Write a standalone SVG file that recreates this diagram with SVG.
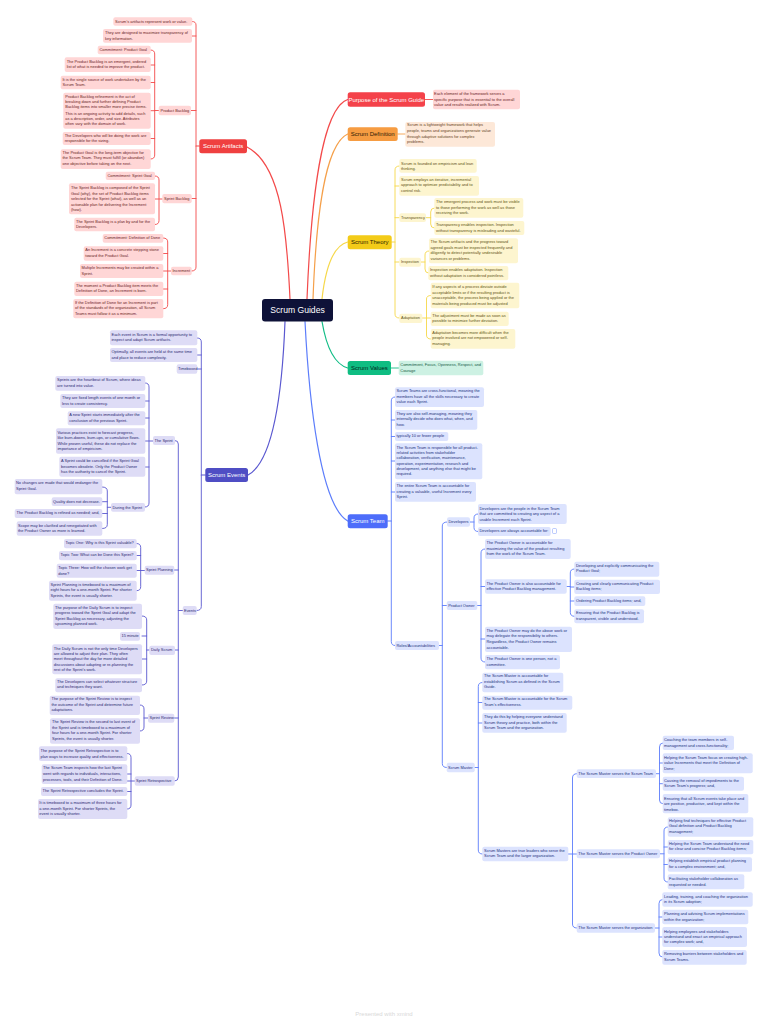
<svg xmlns="http://www.w3.org/2000/svg" width="768" height="1024" viewBox="0 0 768 1024">
<style>
text{font-family:"Liberation Sans",Arial,sans-serif;font-size:3.95px}
rect{rx:2px}
.main rect{rx:2.5px}
.main text{font-size:6px;text-anchor:middle}
path{fill:none;stroke-linecap:round;stroke-width:.9}
.t{stroke-width:1.2}
.red path,path.red{stroke:#f34a4a}
.ora path{stroke:#f5a04a}
.yel path{stroke:#f6d84a}
.grn path{stroke:#12bd86}
.ind path{stroke:#5a58d0}
.blu path{stroke:#5c7dfb}
g.nr rect{fill:#ffd6d6}g.nr text{fill:#6a1f1f}
g.no rect{fill:#fde8d8}g.no text{fill:#65431c}
g.ny rect{fill:#fdf5cf}g.ny text{fill:#5f5214}
g.ng rect{fill:#cdf1e3}g.ng text{fill:#155a44}
g.ni rect{fill:#dedcf6}g.ni text{fill:#2a2870}
g.nb rect{fill:#dce3fe}g.nb text{fill:#22307c}
</style>
<rect width="768" height="1024" fill="#ffffff" style="rx:0"/>
<g id="connectors">
<g class="red">
<path class="t" d="M290 299C287 235 282 165 247 147"/>
<path class="t" d="M196 146H199.3"/>
<path d="M192.3 21.5Q196 21.5 196 25V267Q196 271 191.7 271M192 36H196M191 110.5H196M191.7 198.5H196"/>
<path d="M150.7 50Q154.7 50 154.7 54V155Q154.7 159 150.7 159M150.7 65H154.7M150.7 82.5H154.7M150.7 110.7H154.7M150.7 138.5H154.7M154.7 110.5H158.7"/>
<path d="M155 176Q159 176 159 180V220.5Q159 224.5 155 224.5M155 199H162.3"/>
<path d="M163.3 238Q167.7 238 167.7 242V304.7Q167.7 308.7 163.3 308.7M163.3 253.5H167.7M163.3 271H171M163.3 289H167.7"/>
<path class="t" d="M307 299C311 200 322 108 347.7 99.5"/>
<path d="M425 99.5H433"/>
</g>
<g class="ora">
<path class="t" d="M313 299C316 220 324 145 347.7 134"/>
<path d="M397.7 134H405.3"/>
</g>
<g class="yel">
<path class="t" d="M322 299C325 272 332 246 347.7 242"/>
<path class="t" d="M391.7 242H395"/>
<path d="M399.3 166Q395 166 395 170V314Q395 318 399.3 318M399.3 186H395M399.3 217.7H395M399.3 262H395"/>
<path d="M426 217.7H430.7M434.3 208Q430.7 208 430.7 212V224Q430.7 228 434.3 228"/>
<path d="M421 262H425M429 251Q425 251 425 255V269Q425 273 428.3 273"/>
<path d="M422.3 318H430.7M430.7 295.5Q426.5 295.5 426.5 299V335Q426.5 339 430.7 339"/>
</g>
<g class="grn">
<path class="t" d="M322 321.5C326 345 334 364 347.7 368"/>
<path d="M391 368H398.7"/>
</g>
<g class="ind">
<path class="t" d="M285 321.5C282 400 272 462 248 475"/>
<path class="t" d="M201.3 475H205.3"/>
<path d="M197.3 338Q201.3 338 201.3 342V606.5Q201.3 610.5 196.7 610.5M197.3 355H201.3M197.3 369H201.3"/>
<path d="M175 440.5Q178.3 440.5 178.3 444V777Q178.3 781 174.7 781M174.3 570H178.3M175 650H178.3M174.3 718H178.3M178.3 610.5H182.7"/>
<path d="M145.3 383Q149 383 149 387V503Q149 507 145 507M145.3 401H149M145.3 418H149M145.3 441H153M145.3 467H149"/>
<path d="M102.3 487Q107.3 487 107.3 491V524.5Q107.3 528.5 102.3 528.5M102.3 501.7H107.3M102.3 513.5H107.3M107.3 507.3H111"/>
<path d="M136.7 543.5Q140.7 543.5 140.7 547.5V586.7Q140.7 590.7 136.7 590.7M136.7 555.5H140.7M136.7 570.5H144.7"/>
<path d="M142 616Q146.7 616 146.7 620V681Q146.7 685 142 685M142 636H146.7M142 659H146.7M146.7 650H149.3"/>
<path d="M140 705Q144 705 144 709V727Q144 731 140 731M144 718H148"/>
<path d="M127.3 753.5Q131 753.5 131 757.5V805Q131 809 127.3 809M127.3 774H131M127.3 791.5H131M127.3 781H134.7"/>
</g>
<g class="blu">
<path class="t" d="M305 321.5C309 400 320 505 347.7 521"/>
<path class="t" d="M387.7 521H391.3"/>
<path d="M395 397Q391.3 397 391.3 401V641.5Q391.3 645.5 395 645.5M395 420H391.3M395 436.5H391.3M395 461H391.3M395 492H391.3"/>
<path d="M447 522Q442.3 522 442.3 526V763.5Q442.3 767.5 446.7 767.5M446.7 605.5H442.3M439 645.5H442.3"/>
<path d="M470 522H474M478 514Q474 514 474 518V527.5Q474 531.5 478 531.5"/>
<path d="M477.3 605.5H481M485 549Q481 549 481 553V658Q481 662 485 662M485 586.5H481M485 639H481"/>
<path d="M566.7 586.5H570.3M574.3 569Q570.3 569 570.3 573V612.3Q570.3 616.3 574.3 616.3M574.3 587H570.3M574.3 601H570.3"/>
<path d="M474.7 767.5H478.3M482.3 682.5Q478.3 682.5 478.3 686.5V850Q478.3 854 482.3 854M482.3 702.5H478.3M482.3 723H478.3"/>
<path d="M568.3 854H576.7M576.7 773.7Q572.5 773.7 572.5 778V924Q572.5 928 576.7 928"/>
<path d="M656 773.7H659.5M662.7 743Q659.5 743 659.5 747V800Q659.5 803.7 662.7 803.7M662.7 763H659.5M662.7 783.7H659.5"/>
<path d="M660 853.8H664M667.7 827Q664 827 664 831V878Q664 882 667.7 882M667.7 847H664M667.7 864.5H664"/>
<path d="M655 928H659M662.3 899.5Q659 899.5 659 903.5V953Q659 957 662.3 957M662.3 917H659M662.3 937H659"/>
</g>
</g>
<g id="center" class="main"><rect x="262" y="299" width="71" height="22.5" style="rx:3px" fill="#0e1238"/><text x="297.5" y="313" fill="#ffffff" style="font-size:8.6px">Scrum Guides</text></g>
<g id="artifacts" class="main"><rect x="199.3" y="139.3" width="47.7" height="14" fill="#ef4040"/><text x="223.2" y="148.3" fill="#fff">Scrum Artifacts</text></g>
<g id="purpose" class="main"><rect x="347.7" y="92.3" width="77.3" height="14.4" fill="#f4424a"/><text x="386.3" y="101.5" fill="#fff">Purpose of the Scrum Guide</text></g>
<g id="definition" class="main"><rect x="347.7" y="127.3" width="50" height="13.7" fill="#f69c42"/><text x="372.7" y="136.2" fill="#2c1a05">Scrum Definition</text></g>
<g id="theory" class="main"><rect x="347.7" y="235.3" width="44" height="14" fill="#f3cb18"/><text x="369.7" y="244.3" fill="#2a2300">Scrum Theory</text></g>
<g id="values" class="main"><rect x="347.7" y="361" width="43.3" height="14" fill="#0fbd82"/><text x="369.4" y="370" fill="#03281c">Scrum Values</text></g>
<g id="team" class="main"><rect x="347.7" y="514.3" width="40" height="14" fill="#4d6dfa"/><text x="367.7" y="523.3" fill="#fff">Scrum Team</text></g>
<g id="events" class="main"><rect x="205.3" y="468" width="42.7" height="14" fill="#4f4ec4"/><text x="226.7" y="477" fill="#fff">Scrum Events</text></g>

<g class="nr">
<g id="a1"><rect x="113.3" y="17.3" width="79" height="8.4"/><text x="115" y="22.8">Scrum's artifacts represent work or value.</text></g>
<g id="a2"><rect x="103" y="29" width="89" height="13.7"/><text x="105" y="34.4"><tspan>They are designed to maximize transparency of</tspan><tspan x="105" y="39.7">key information.</tspan></text></g>
<g id="a3"><rect x="158.7" y="105.7" width="32.3" height="9.6"/><text x="160.5" y="111.8">Product Backlog</text></g>
<g id="a4"><rect x="97.7" y="45.7" width="53" height="8.6"/><text x="99.5" y="51.3">Commitment: Product Goal</text></g>
<g id="a5"><rect x="64.7" y="57.3" width="86" height="14.7"/><text x="66.7" y="63"><tspan>The Product Backlog is an emergent, ordered</tspan><tspan x="66.7" y="68.1">list of what is needed to improve the product.</tspan></text></g>
<g id="a6"><rect x="60.7" y="75.7" width="90" height="13.6"/><text x="62.5" y="81"><tspan>It is the single source of work undertaken by the</tspan><tspan x="62.5" y="86.4">Scrum Team.</tspan></text></g>
<g id="a7"><rect x="63.3" y="92.7" width="87.4" height="36"/><text x="65.3" y="98"><tspan>Product Backlog refinement is the act of</tspan><tspan x="65.3" y="103.1">breaking down and further defining Product</tspan><tspan x="65.3" y="108.4">Backlog items into smaller more precise items.</tspan><tspan x="65.3" y="114.7">This is an ongoing activity to add details, such</tspan><tspan x="65.3" y="119.7">as a description, order, and size. Attributes</tspan><tspan x="65.3" y="125.1">often vary with the domain of work.</tspan></text></g>
<g id="a8"><rect x="62.7" y="132" width="88" height="13"/><text x="64.7" y="137.1"><tspan>The Developers who will be doing the work are</tspan><tspan x="64.7" y="142.4">responsible for the sizing.</tspan></text></g>
<g id="a9"><rect x="60.7" y="149.3" width="90" height="19.7"/><text x="62.5" y="154.1"><tspan>The Product Goal is the long-term objective for</tspan><tspan x="62.5" y="159.4">the Scrum Team. They must fulfill (or abandon)</tspan><tspan x="62.5" y="164.7">one objective before taking on the next.</tspan></text></g>
<g id="a10"><rect x="162.3" y="194" width="29.4" height="9.3"/><text x="164" y="199.9">Sprint Backlog</text></g>
<g id="a11"><rect x="105.7" y="171.7" width="49.3" height="8.3"/><text x="107.5" y="177">Commitment: Sprint Goal</text></g>
<g id="a12"><rect x="69" y="183.3" width="86" height="31"/><text x="71" y="188.7"><tspan>The Sprint Backlog is composed of the Sprint</tspan><tspan x="71" y="195.1">Goal (why), the set of Product Backlog items</tspan><tspan x="71" y="200.4">selected for the Sprint (what), as well as an</tspan><tspan x="71" y="205.7">actionable plan for delivering the Increment</tspan><tspan x="71" y="210.7">(how).</tspan></text></g>
<g id="a13"><rect x="74.3" y="217.7" width="80.7" height="13.6"/><text x="76" y="222.7"><tspan>The Sprint Backlog is a plan by and for the</tspan><tspan x="76" y="228.4">Developers.</tspan></text></g>
<g id="a14"><rect x="171" y="266.7" width="20.7" height="8.6"/><text x="172.5" y="272.4">Increment</text></g>
<g id="a15"><rect x="102.7" y="234" width="60.6" height="8.7"/><text x="104.3" y="239.4">Commitment: Definition of Done</text></g>
<g id="a16"><rect x="83.7" y="246.3" width="79.6" height="14.4"/><text x="85.3" y="251.4"><tspan>An Increment is a concrete stepping stone</tspan><tspan x="85.3" y="257.1">toward the Product Goal.</tspan></text></g>
<g id="a17"><rect x="80" y="264" width="83.3" height="14"/><text x="81.5" y="269.4"><tspan>Multiple Increments may be created within a</tspan><tspan x="81.5" y="275.1">Sprint.</tspan></text></g>
<g id="a18"><rect x="74.3" y="281.7" width="89" height="14.3"/><text x="76" y="287.1"><tspan>The moment a Product Backlog item meets the</tspan><tspan x="76" y="292.1">Definition of Done, an Increment is born.</tspan></text></g>
<g id="a19"><rect x="73.3" y="299" width="90" height="19.3"/><text x="75" y="303.7"><tspan>If the Definition of Done for an Increment is part</tspan><tspan x="75" y="309.4">of the standards of the organization, all Scrum</tspan><tspan x="75" y="314.7">Teams must follow it as a minimum.</tspan></text></g>
<g id="p1"><rect x="433" y="89.7" width="87" height="19.6"/><text x="434" y="95.4"><tspan>Each element of the framework serves a</tspan><tspan x="434" y="100.7">specific purpose that is essential to the overall</tspan><tspan x="434" y="106.4">value and results realized with Scrum.</tspan></text></g>
</g>

<g class="no">
<g id="d1"><rect x="405.3" y="122" width="89.7" height="24.7"/><text x="407" y="126.4"><tspan>Scrum is a lightweight framework that helps</tspan><tspan x="407" y="132.4">people, teams and organizations generate value</tspan><tspan x="407" y="138.1">through adaptive solutions for complex</tspan><tspan x="407" y="143.4">problems.</tspan></text></g>
</g>

<g class="ny">
<g id="t1"><rect x="399.3" y="159" width="77.4" height="13.7"/><text x="401" y="164.7"><tspan>Scrum is founded on empiricism and lean</tspan><tspan x="401" y="170.4">thinking.</tspan></text></g>
<g id="t2"><rect x="399.3" y="176" width="79.7" height="19.7"/><text x="401" y="181.4"><tspan>Scrum employs an iterative, incremental</tspan><tspan x="401" y="186.4">approach to optimize predictability and to</tspan><tspan x="401" y="192.4">control risk.</tspan></text></g>
<g id="t3"><rect x="399.3" y="213.3" width="26.7" height="8.7"/><text x="401" y="219.1">Transparency</text></g>
<g id="t4"><rect x="434.3" y="198" width="89" height="19.7"/><text x="436" y="203.4"><tspan>The emergent process and work must be visible</tspan><tspan x="436" y="209.1">to those performing the work as well as those</tspan><tspan x="436" y="214.4">receiving the work.</tspan></text></g>
<g id="t5"><rect x="434.3" y="221" width="90" height="14"/><text x="436" y="226.4"><tspan>Transparency enables inspection. Inspection</tspan><tspan x="436" y="232.4">without transparency is misleading and wasteful.</tspan></text></g>
<g id="t6"><rect x="399.3" y="257.7" width="21.7" height="9"/><text x="401" y="263.4">Inspection</text></g>
<g id="t7"><rect x="429" y="238.3" width="89" height="25"/><text x="430.5" y="242.7"><tspan>The Scrum artifacts and the progress toward</tspan><tspan x="430.5" y="248.7">agreed goals must be inspected frequently and</tspan><tspan x="430.5" y="254.1">diligently to detect potentially undesirable</tspan><tspan x="430.5" y="259.7">variances or problems.</tspan></text></g>
<g id="t8"><rect x="428.3" y="266" width="80" height="14.3"/><text x="430" y="271.4"><tspan>Inspection enables adaptation. Inspection</tspan><tspan x="430" y="277.1">without adaptation is considered pointless.</tspan></text></g>
<g id="t9"><rect x="399.3" y="313.7" width="23" height="9.3"/><text x="401" y="319.4">Adaptation</text></g>
<g id="t10"><rect x="430.7" y="282.7" width="88.6" height="25.6"/><text x="432.3" y="288.4"><tspan>If any aspects of a process deviate outside</tspan><tspan x="432.3" y="294.1">acceptable limits or if the resulting product is</tspan><tspan x="432.3" y="299.4">unacceptable, the process being applied or the</tspan><tspan x="432.3" y="305.1">materials being produced must be adjusted</tspan></text></g>
<g id="t11"><rect x="430.7" y="311.7" width="78" height="14.3"/><text x="432.3" y="317.1"><tspan>The adjustment must be made as soon as</tspan><tspan x="432.3" y="322.1">possible to minimize further deviation.</tspan></text></g>
<g id="t12"><rect x="430.7" y="329" width="84.6" height="19.7"/><text x="432.3" y="333.7"><tspan>Adaptation becomes more difficult when the</tspan><tspan x="432.3" y="339.4">people involved are not empowered or self-</tspan><tspan x="432.3" y="344.7">managing.</tspan></text></g>
</g>

<g class="ng">
<g id="v1"><rect x="398.7" y="360.7" width="84.6" height="14.6"/><text x="400.3" y="366.1"><tspan>Commitment, Focus, Openness, Respect, and</tspan><tspan x="400.3" y="372.1">Courage</tspan></text></g>
</g>

<g class="ni">
<g id="e1"><rect x="110" y="330.3" width="87.3" height="15"/><text x="111.5" y="336.1"><tspan>Each event in Scrum is a formal opportunity to</tspan><tspan x="111.5" y="341.1">inspect and adapt Scrum artifacts.</tspan></text></g>
<g id="e2"><rect x="110" y="348" width="87.3" height="14"/><text x="111.5" y="353.1"><tspan>Optimally, all events are held at the same time</tspan><tspan x="111.5" y="359.1">and place to reduce complexity.</tspan></text></g>
<g id="e3"><rect x="176.7" y="364.3" width="20.6" height="9.4"/><text x="178" y="370.1">Timeboxed</text></g>
<g id="e4"><rect x="182.7" y="606" width="14" height="9"/><text x="184" y="611.9">Events</text></g>
<g id="e5"><rect x="153" y="436" width="22" height="9"/><text x="154.5" y="441.7">The Sprint</text></g>
<g id="e6"><rect x="55.3" y="376" width="90" height="14.7"/><text x="57" y="381.4"><tspan>Sprints are the heartbeat of Scrum, where ideas</tspan><tspan x="57" y="386.7">are turned into value.</tspan></text></g>
<g id="e7"><rect x="60.3" y="394" width="85" height="14"/><text x="62" y="398.7"><tspan>They are fixed length events of one month or</tspan><tspan x="62" y="404.7">less to create consistency.</tspan></text></g>
<g id="e8"><rect x="67.7" y="411.3" width="77.6" height="14"/><text x="69.3" y="416.4"><tspan>A new Sprint starts immediately after the</tspan><tspan x="69.3" y="421.7">conclusion of the previous Sprint.</tspan></text></g>
<g id="e9"><rect x="56" y="428.3" width="89.3" height="25.4"/><text x="57.5" y="434.1"><tspan>Various practices exist to forecast progress,</tspan><tspan x="57.5" y="439.4">like burn-downs, burn-ups, or cumulative flows.</tspan><tspan x="57.5" y="445.1">While proven useful, these do not replace the</tspan><tspan x="57.5" y="450.4">importance of empiricism.</tspan></text></g>
<g id="e10"><rect x="59.3" y="456.7" width="86" height="20"/><text x="61" y="461.7"><tspan>A Sprint could be cancelled if the Sprint Goal</tspan><tspan x="61" y="467.7">becomes obsolete. Only the Product Owner</tspan><tspan x="61" y="473.1">has the authority to cancel the Sprint.</tspan></text></g>
<g id="e11"><rect x="111" y="503" width="34" height="8.7"/><text x="112.5" y="508.7">During the Sprint</text></g>
<g id="e12"><rect x="14.7" y="479" width="87.6" height="15.3"/><text x="16" y="484.4"><tspan>No changes are made that would endanger the</tspan><tspan x="16" y="490.4">Sprint Goal.</tspan></text></g>
<g id="e13"><rect x="51.7" y="497.3" width="50.6" height="8.7"/><text x="53" y="503.1">Quality does not decrease.</text></g>
<g id="e14"><rect x="14.7" y="509" width="87.6" height="9"/><text x="16.5" y="514.4">The Product Backlog is refined as needed; and,</text></g>
<g id="e15"><rect x="16.7" y="521.3" width="85.6" height="14.4"/><text x="18" y="526.7"><tspan>Scope may be clarified and renegotiated with</tspan><tspan x="18" y="532.4">the Product Owner as more is learned.</tspan></text></g>
<g id="e16"><rect x="144.7" y="565.7" width="29.6" height="9"/><text x="146" y="571.1">Sprint Planning</text></g>
<g id="e17"><rect x="64" y="539" width="72.7" height="9.3"/><text x="65.5" y="544.4">Topic One: Why is this Sprint valuable?</text></g>
<g id="e18"><rect x="59" y="551" width="77.7" height="9.3"/><text x="60.5" y="556.4">Topic Two: What can be Done this Sprint?</text></g>
<g id="e19"><rect x="56.7" y="563.7" width="80" height="14"/><text x="58.3" y="568.7"><tspan>Topic Three: How will the chosen work get</tspan><tspan x="58.3" y="574.7">done?</tspan></text></g>
<g id="e20"><rect x="49" y="580.7" width="87.7" height="20"/><text x="50.5" y="586.4"><tspan>Sprint Planning is timeboxed to a maximum of</tspan><tspan x="50.5" y="591.4">eight hours for a one-month Sprint. For shorter</tspan><tspan x="50.5" y="597.4">Sprints, the event is usually shorter.</tspan></text></g>
<g id="e21"><rect x="149.3" y="645.7" width="25.7" height="9.3"/><text x="151" y="651.4">Daily Scrum</text></g>
<g id="e22"><rect x="53.3" y="603.7" width="88.7" height="25.3"/><text x="55" y="609.1"><tspan>The purpose of the Daily Scrum is to inspect</tspan><tspan x="55" y="614.1">progress toward the Sprint Goal and adapt the</tspan><tspan x="55" y="620.1">Sprint Backlog as necessary, adjusting the</tspan><tspan x="55" y="625.1">upcoming planned work.</tspan></text></g>
<g id="e23"><rect x="120" y="632" width="20" height="8.7"/><text x="121.5" y="637.1">15 minute</text></g>
<g id="e24"><rect x="52.3" y="644.3" width="89.7" height="30"/><text x="53.8" y="650.1"><tspan>The Daily Scrum is not the only time Developers</tspan><tspan x="53.8" y="655.1">are allowed to adjust their plan. They often</tspan><tspan x="53.8" y="660.4">meet throughout the day for more detailed</tspan><tspan x="53.8" y="665.7">discussions about adapting or re-planning the</tspan><tspan x="53.8" y="671.4">rest of the Sprint's work.</tspan></text></g>
<g id="e25"><rect x="55.3" y="678.3" width="86.7" height="14"/><text x="57" y="683.4"><tspan>The Developers can select whatever structure</tspan><tspan x="57" y="688.4">and techniques they want.</tspan></text></g>
<g id="e26"><rect x="148" y="713.7" width="26.3" height="9"/><text x="149.5" y="719.4">Sprint Review</text></g>
<g id="e27"><rect x="49.7" y="695.7" width="90.3" height="19.3"/><text x="51.5" y="700.4"><tspan>The purpose of the Sprint Review is to inspect</tspan><tspan x="51.5" y="706.4">the outcome of the Sprint and determine future</tspan><tspan x="51.5" y="711.4">adaptations.</tspan></text></g>
<g id="e28"><rect x="50" y="718.3" width="90" height="25.4"/><text x="52" y="723.1"><tspan>The Sprint Review is the second to last event of</tspan><tspan x="52" y="729.1">the Sprint and is timeboxed to a maximum of</tspan><tspan x="52" y="734.4">four hours for a one-month Sprint. For shorter</tspan><tspan x="52" y="740.1">Sprints, the event is usually shorter.</tspan></text></g>
<g id="e29"><rect x="134.7" y="776.3" width="40" height="9.4"/><text x="136" y="782">Sprint Retrospective</text></g>
<g id="e30"><rect x="39" y="746.3" width="88.3" height="14.7"/><text x="40.5" y="751.7"><tspan>The purpose of the Sprint Retrospective is to</tspan><tspan x="40.5" y="757.7">plan ways to increase quality and effectiveness.</tspan></text></g>
<g id="e31"><rect x="41.7" y="764.3" width="85.6" height="19.7"/><text x="43" y="769.4"><tspan>The Scrum Team inspects how the last Sprint</tspan><tspan x="43" y="774.7">went with regards to individuals, interactions,</tspan><tspan x="43" y="780.7">processes, tools, and their Definition of Done.</tspan></text></g>
<g id="e32"><rect x="41" y="787" width="86.3" height="9"/><text x="42.5" y="792.4">The Sprint Retrospective concludes the Sprint.</text></g>
<g id="e33"><rect x="38" y="799" width="89.3" height="20"/><text x="39.3" y="804.4"><tspan>It is timeboxed to a maximum of three hours for</tspan><tspan x="39.3" y="809.7">a one-month Sprint. For shorter Sprints, the</tspan><tspan x="39.3" y="815.1">event is usually shorter.</tspan></text></g>
</g>

<g class="nb">
<g id="s1"><rect x="395" y="387.3" width="89" height="19.7"/><text x="396.5" y="392.4"><tspan>Scrum Teams are cross-functional, meaning the</tspan><tspan x="396.5" y="398.1">members have all the skills necessary to create</tspan><tspan x="396.5" y="403.4">value each Sprint.</tspan></text></g>
<g id="s2"><rect x="395" y="410" width="82.3" height="19.7"/><text x="396.5" y="415.4"><tspan>They are also self-managing, meaning they</tspan><tspan x="396.5" y="420.1">internally decide who does what, when, and</tspan><tspan x="396.5" y="426.1">how.</tspan></text></g>
<g id="s3"><rect x="395" y="432" width="53.3" height="9"/><text x="396.5" y="437.1">typically 10 or fewer people</text></g>
<g id="s4"><rect x="395" y="443.3" width="87.3" height="36"/><text x="396.5" y="448.7"><tspan>The Scrum Team is responsible for all product-</tspan><tspan x="396.5" y="453.7">related activities from stakeholder</tspan><tspan x="396.5" y="459.4">collaboration, verification, maintenance,</tspan><tspan x="396.5" y="464.7">operation, experimentation, research and</tspan><tspan x="396.5" y="470.4">development, and anything else that might be</tspan><tspan x="396.5" y="475.4">required.</tspan></text></g>
<g id="s5"><rect x="395" y="482" width="81" height="19.7"/><text x="396.5" y="487.1"><tspan>The entire Scrum Team is accountable for</tspan><tspan x="396.5" y="492.7">creating a valuable, useful Increment every</tspan><tspan x="396.5" y="498.1">Sprint.</tspan></text></g>
<g id="s6"><rect x="395" y="641" width="44" height="9"/><text x="396.5" y="646.8">Roles/Accountabilities</text></g>
<g id="s7"><rect x="447" y="517.3" width="23" height="9.4"/><text x="448.5" y="523.1">Developers</text></g>
<g id="s8"><rect x="478" y="504" width="88.7" height="20"/><text x="479.5" y="509.7"><tspan>Developers are the people in the Scrum Team</tspan><tspan x="479.5" y="514.7">that are committed to creating any aspect of a</tspan><tspan x="479.5" y="520.7">usable Increment each Sprint.</tspan></text></g>
<g id="s9"><rect x="478" y="527" width="72.7" height="9"/><text x="479.5" y="532.4">Developers are always accountable for:</text><rect x="552.5" y="528.5" width="4" height="5" stroke="#5c7dfb" stroke-width=".4" style="fill:#fff;rx:1px"/></g>
<g id="s10"><rect x="446.7" y="601" width="30.6" height="9"/><text x="448.2" y="607.1">Product Owner</text></g>
<g id="s11"><rect x="485" y="539" width="85.7" height="20"/><text x="486.5" y="544.1"><tspan>The Product Owner is accountable for</tspan><tspan x="486.5" y="549.7">maximizing the value of the product resulting</tspan><tspan x="486.5" y="555.4">from the work of the Scrum Team.</tspan></text></g>
<g id="s12"><rect x="485" y="579.3" width="81.7" height="14.4"/><text x="486.5" y="585.1"><tspan>The Product Owner is also accountable for</tspan><tspan x="486.5" y="590.1">effective Product Backlog management.</tspan></text></g>
<g id="s13"><rect x="574.3" y="561.7" width="85" height="15"/><text x="576" y="567.1"><tspan>Developing and explicitly communicating the</tspan><tspan x="576" y="572.1">Product Goal;</tspan></text></g>
<g id="s14"><rect x="574.3" y="579.7" width="85.7" height="14.3"/><text x="576" y="585.1"><tspan>Creating and clearly communicating Product</tspan><tspan x="576" y="590.1">Backlog items;</tspan></text></g>
<g id="s15"><rect x="574.3" y="596.3" width="71" height="9.7"/><text x="576" y="602.1">Ordering Product Backlog items; and,</text></g>
<g id="s16"><rect x="574.3" y="609.3" width="69.7" height="14"/><text x="576" y="614.1"><tspan>Ensuring that the Product Backlog is</tspan><tspan x="576" y="620.4">transparent, visible and understood.</tspan></text></g>
<g id="s17"><rect x="485" y="626.7" width="87" height="25.3"/><text x="486.5" y="632.1"><tspan>The Product Owner may do the above work or</tspan><tspan x="486.5" y="637.4">may delegate the responsibility to others.</tspan><tspan x="486.5" y="643.1">Regardless, the Product Owner remains</tspan><tspan x="486.5" y="648.7">accountable.</tspan></text></g>
<g id="s18"><rect x="485" y="655" width="75" height="14.3"/><text x="486.5" y="660.4"><tspan>The Product Owner is one person, not a</tspan><tspan x="486.5" y="665.7">committee.</tspan></text></g>
<g id="s19"><rect x="446.7" y="762.7" width="28" height="9.6"/><text x="448" y="768.5">Scrum Master</text></g>
<g id="s20"><rect x="482.3" y="672.7" width="81" height="19.6"/><text x="484" y="677.4"><tspan>The Scrum Master is accountable for</tspan><tspan x="484" y="683.4">establishing Scrum as defined in the Scrum</tspan><tspan x="484" y="688.4">Guide.</tspan></text></g>
<g id="s21"><rect x="482.3" y="695.7" width="90" height="14"/><text x="484" y="700.4"><tspan>The Scrum Master is accountable for the Scrum</tspan><tspan x="484" y="706.4">Team's effectiveness.</tspan></text></g>
<g id="s22"><rect x="482.3" y="713" width="84.4" height="19.7"/><text x="484" y="718.4"><tspan>They do this by helping everyone understand</tspan><tspan x="484" y="723.7">Scrum theory and practice, both within the</tspan><tspan x="484" y="729.1">Scrum Team and the organization.</tspan></text></g>
<g id="s23"><rect x="482.3" y="846.7" width="86" height="14.6"/><text x="484" y="852.1"><tspan>Scrum Masters are true leaders who serve the</tspan><tspan x="484" y="857.1">Scrum Team and the larger organization.</tspan></text></g>
<g id="s24"><rect x="576.7" y="769.3" width="79.3" height="8.7"/><text x="578.3" y="775">The Scrum Master serves the Scrum Team</text></g>
<g id="s25"><rect x="576.7" y="849.3" width="83.3" height="9"/><text x="578.3" y="855">The Scrum Master serves the Product Owner</text></g>
<g id="s26"><rect x="576.7" y="923.3" width="78.3" height="9.4"/><text x="578.3" y="929.4">The Scrum Master serves the organization</text></g>
<g id="s27"><rect x="662.7" y="735.7" width="71.3" height="14.3"/><text x="664" y="741.1"><tspan>Coaching the team members in self-</tspan><tspan x="664" y="746.7">management and cross-functionality;</tspan></text></g>
<g id="s28"><rect x="662.7" y="753.3" width="90" height="20"/><text x="664" y="759.1"><tspan>Helping the Scrum Team focus on creating high-</tspan><tspan x="664" y="764.1">value Increments that meet the Definition of</tspan><tspan x="664" y="769.7">Done;</tspan></text></g>
<g id="s29"><rect x="662.7" y="776.7" width="81.3" height="14"/><text x="664" y="781.7"><tspan>Causing the removal of impediments to the</tspan><tspan x="664" y="786.7">Scrum Team's progress; and,</tspan></text></g>
<g id="s30"><rect x="662.7" y="794" width="85.6" height="19.3"/><text x="664" y="799.7"><tspan>Ensuring that all Scrum events take place and</tspan><tspan x="664" y="804.7">are positive, productive, and kept within the</tspan><tspan x="664" y="810.7">timebox.</tspan></text></g>
<g id="s31"><rect x="667.7" y="817.3" width="85.6" height="19.4"/><text x="669" y="822.4"><tspan>Helping find techniques for effective Product</tspan><tspan x="669" y="827.4">Goal definition and Product Backlog</tspan><tspan x="669" y="833.4">management;</tspan></text></g>
<g id="s32"><rect x="667.7" y="840" width="85.6" height="14.3"/><text x="669" y="845.4"><tspan>Helping the Scrum Team understand the need</tspan><tspan x="669" y="850.4">for clear and concise Product Backlog items;</tspan></text></g>
<g id="s33"><rect x="667.7" y="857.3" width="84.3" height="14.4"/><text x="669" y="862.4"><tspan>Helping establish empirical product planning</tspan><tspan x="669" y="868.1">for a complex environment; and,</tspan></text></g>
<g id="s34"><rect x="667.7" y="874.3" width="76.6" height="15"/><text x="669" y="880.1"><tspan>Facilitating stakeholder collaboration as</tspan><tspan x="669" y="886.1">requested or needed.</tspan></text></g>
<g id="s35"><rect x="662.3" y="892.3" width="90.4" height="14.4"/><text x="664" y="898.1"><tspan>Leading, training, and coaching the organization</tspan><tspan x="664" y="903.1">in its Scrum adoption;</tspan></text></g>
<g id="s36"><rect x="662.3" y="909.7" width="86" height="14.6"/><text x="664" y="915.1"><tspan>Planning and advising Scrum implementations</tspan><tspan x="664" y="920.7">within the organization;</tspan></text></g>
<g id="s37"><rect x="662.3" y="927" width="84.7" height="20"/><text x="664" y="932.7"><tspan>Helping employees and stakeholders</tspan><tspan x="664" y="937.7">understand and enact an empirical approach</tspan><tspan x="664" y="943.4">for complex work; and,</tspan></text></g>
<g id="s38"><rect x="662.3" y="950" width="84.4" height="14.7"/><text x="664" y="955.4"><tspan>Removing barriers between stakeholders and</tspan><tspan x="664" y="961.4">Scrum Teams.</tspan></text></g>
</g>
<text id="footer" x="384" y="1016" text-anchor="middle" fill="#d8d8d8" style="font-size:6px">Presented with xmind</text>
</svg>
